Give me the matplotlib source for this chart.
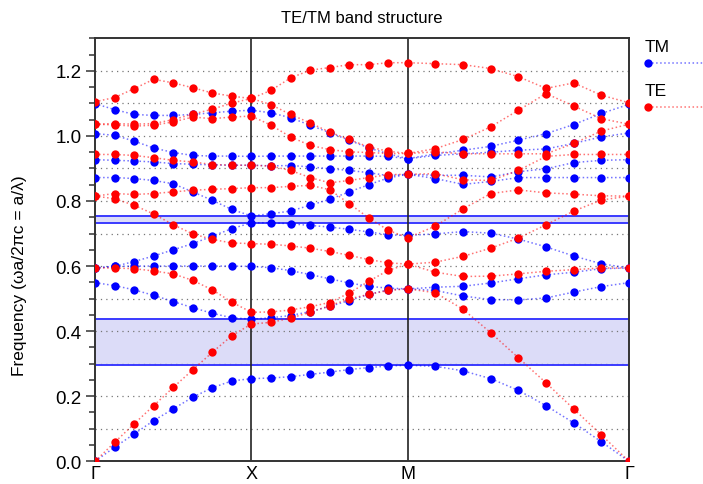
import matplotlib
matplotlib.use("Agg")
import matplotlib.pyplot as plt
import numpy as np
from matplotlib.lines import Line2D
from matplotlib.ticker import MultipleLocator

plt.rcParams['font.family'] = ['Liberation Sans', 'DejaVu Sans']

# high-symmetry points and length of each leg of the k-path (units of 2pi/a)
k_labels = ['Γ', 'X', 'M', 'Γ']
leg_lengths = [0.5, 0.5, np.sqrt(2) / 2]

# frequencies (wa/2pic) at each k-point, 8 bands per row
tm_gamma_x = [
    [0.000, 0.549, 0.594, 0.594, 0.872, 0.927, 1.007, 1.099],
    [0.043, 0.540, 0.599, 0.599, 0.872, 0.925, 1.002, 1.081],
    [0.084, 0.527, 0.600, 0.614, 0.869, 0.923, 0.984, 1.066],
    [0.125, 0.510, 0.600, 0.631, 0.863, 0.920, 0.963, 1.063],
    [0.161, 0.491, 0.600, 0.650, 0.853, 0.915, 0.949, 1.063],
    [0.197, 0.472, 0.600, 0.669, 0.828, 0.913, 0.940, 1.066],
    [0.226, 0.455, 0.600, 0.692, 0.802, 0.911, 0.938, 1.071],
    [0.247, 0.441, 0.600, 0.715, 0.774, 0.910, 0.938, 1.076],
    [0.254, 0.437, 0.599, 0.733, 0.754, 0.910, 0.937, 1.079],
]
tm_x_m = [
    [0.254, 0.437, 0.599, 0.733, 0.754, 0.910, 0.937, 1.079],
    [0.256, 0.441, 0.595, 0.733, 0.761, 0.908, 0.938, 1.071],
    [0.260, 0.448, 0.586, 0.730, 0.769, 0.909, 0.938, 1.056],
    [0.267, 0.460, 0.574, 0.725, 0.787, 0.905, 0.938, 1.033],
    [0.274, 0.476, 0.561, 0.720, 0.805, 0.899, 0.938, 1.010],
    [0.282, 0.494, 0.548, 0.713, 0.828, 0.894, 0.938, 0.987],
    [0.288, 0.513, 0.538, 0.705, 0.850, 0.887, 0.938, 0.963],
    [0.293, 0.527, 0.532, 0.696, 0.871, 0.878, 0.937, 0.945],
    [0.295, 0.530, 0.530, 0.694, 0.882, 0.882, 0.930, 0.930],
]
tm_m_gamma = [
    [0.295, 0.530, 0.530, 0.694, 0.882, 0.882, 0.930, 0.930],
    [0.292, 0.525, 0.535, 0.699, 0.869, 0.879, 0.940, 0.945],
    [0.278, 0.508, 0.538, 0.706, 0.851, 0.879, 0.945, 0.956],
    [0.254, 0.497, 0.548, 0.701, 0.860, 0.874, 0.950, 0.968],
    [0.218, 0.496, 0.561, 0.683, 0.872, 0.890, 0.956, 0.987],
    [0.171, 0.502, 0.573, 0.659, 0.872, 0.899, 0.960, 1.007],
    [0.118, 0.520, 0.581, 0.631, 0.872, 0.918, 0.977, 1.035],
    [0.060, 0.537, 0.592, 0.607, 0.872, 0.925, 0.997, 1.069],
    [0.000, 0.549, 0.594, 0.594, 0.872, 0.927, 1.009, 1.097],
]

te_gamma_x = [
    [0.000, 0.594, 0.815, 0.815, 0.943, 1.036, 1.036, 1.105],
    [0.058, 0.594, 0.807, 0.823, 0.943, 1.034, 1.038, 1.118],
    [0.115, 0.592, 0.787, 0.820, 0.940, 1.030, 1.036, 1.145],
    [0.171, 0.585, 0.760, 0.823, 0.933, 1.033, 1.038, 1.174],
    [0.227, 0.576, 0.727, 0.828, 0.925, 1.043, 1.050, 1.163],
    [0.281, 0.556, 0.699, 0.833, 0.920, 1.058, 1.067, 1.148],
    [0.335, 0.527, 0.682, 0.836, 0.912, 1.053, 1.082, 1.132],
    [0.386, 0.489, 0.671, 0.838, 0.910, 1.058, 1.101, 1.122],
    [0.422, 0.458, 0.669, 0.841, 0.910, 1.061, 1.115, 1.115],
]
te_x_m = [
    [0.422, 0.458, 0.669, 0.841, 0.910, 1.061, 1.115, 1.115],
    [0.427, 0.459, 0.667, 0.841, 0.907, 1.033, 1.096, 1.140],
    [0.440, 0.465, 0.662, 0.845, 0.894, 0.997, 1.066, 1.178],
    [0.458, 0.475, 0.655, 0.848, 0.872, 0.971, 1.040, 1.202],
    [0.478, 0.488, 0.645, 0.835, 0.856, 0.958, 1.012, 1.210],
    [0.499, 0.517, 0.633, 0.792, 0.863, 0.951, 0.989, 1.219],
    [0.513, 0.553, 0.620, 0.748, 0.872, 0.949, 0.966, 1.219],
    [0.525, 0.587, 0.610, 0.710, 0.881, 0.946, 0.953, 1.225],
    [0.530, 0.606, 0.606, 0.687, 0.882, 0.946, 0.946, 1.225],
]
te_m_gamma = [
    [0.530, 0.606, 0.606, 0.687, 0.882, 0.946, 0.946, 1.225],
    [0.518, 0.581, 0.612, 0.723, 0.884, 0.951, 0.961, 1.222],
    [0.467, 0.568, 0.630, 0.776, 0.865, 0.945, 0.989, 1.219],
    [0.395, 0.569, 0.655, 0.823, 0.863, 0.945, 1.028, 1.207],
    [0.318, 0.576, 0.686, 0.834, 0.894, 0.945, 1.079, 1.182],
    [0.241, 0.584, 0.727, 0.825, 0.937, 0.945, 1.130, 1.146],
    [0.161, 0.589, 0.769, 0.821, 0.943, 0.977, 1.092, 1.163],
    [0.081, 0.594, 0.803, 0.816, 0.943, 1.015, 1.053, 1.125],
    [0.000, 0.594, 0.815, 0.815, 0.943, 1.036, 1.036, 1.102],
]


def join_legs(legs):
    out = list(legs[0])
    for leg in legs[1:]:
        out += leg[1:]
    return np.array(out)


tm = join_legs([tm_gamma_x, tm_x_m, tm_m_gamma])
te = join_legs([te_gamma_x, te_x_m, te_m_gamma])

# k distance along the path
sym_k = np.concatenate([[0], np.cumsum(leg_lengths)])
kx = [0.0]
for i in range(3):
    kx += list(np.linspace(sym_k[i], sym_k[i + 1], len(tm_gamma_x))[1:])
kx = np.array(kx)

fig = plt.figure(figsize=(7.03, 4.85), dpi=100)
ax = fig.add_axes([95 / 703, 1 - 462.3 / 485, 534 / 703, 423 / 485])

blue = '#0000ff'
red = '#ff0000'

# TM band gaps
for lo, hi in [(tm[:, 0].max(), tm[:, 1].min()), (tm[:, 3].max(), tm[:, 4].min())]:
    ax.axhspan(lo, hi, color='#dcdcf8', lw=0, zorder=0.5)
    ax.axhline(lo, color='#3a3aff', lw=1.4, zorder=1)
    ax.axhline(hi, color='#3a3aff', lw=1.4, zorder=1)

for y in np.arange(0.1, 1.25, 0.1):
    ax.axhline(y, color='#777777', lw=0.9, dashes=(1, 3.3), zorder=0.8)
for x in sym_k[1:-1]:
    ax.axvline(x, color='#222222', lw=1.2, zorder=1.2)

for bands, c in [(tm, blue), (te, red)]:
    for b in range(bands.shape[1]):
        ax.plot(kx, bands[:, b], ls=':', lw=1.1, color=c, alpha=0.55, zorder=2)
        ax.plot(kx, bands[:, b], 'o', ms=6, color=c, mec='none', zorder=3)

ax.set_xlim(sym_k[0], sym_k[-1])
ax.set_ylim(0, 1.3)
ax.set_xticks(sym_k)
ax.set_xticklabels(k_labels, fontsize=13)
ax.tick_params(axis='x', length=0, pad=3)
ax.set_yticks(np.arange(0, 1.21, 0.2))
ax.set_yticklabels(['%.1f' % v for v in np.arange(0, 1.21, 0.2)], fontsize=13.5)
ax.yaxis.set_minor_locator(MultipleLocator(0.05))
ax.tick_params(axis='y', which='major', direction='out', length=6.5, width=1.1, color='#333333', pad=3)
ax.tick_params(axis='y', which='minor', direction='out', length=4.3, width=1.1, color='#333333')
for s in ax.spines.values():
    s.set_color('#333333')
    s.set_linewidth(1.4)

ax.set_ylabel('Frequency (ωa/2πc = a/λ)', fontsize=12.5)
ax.yaxis.set_label_coords(-0.128, 0.44)
ax.set_title('TE/TM band structure', fontsize=12, pad=12)

# legend outside the axes on the right
for label, c, ty, my in [('TM', blue, 47, 64), ('TE', red, 91, 107.5)]:
    fig.text(645 / 703, 1 - ty / 485, label, fontsize=12.5, va='center', ha='left')
    yy = 1 - my / 485
    fig.add_artist(Line2D([648 / 703, 1.0], [yy, yy], transform=fig.transFigure,
                          ls=':', lw=1.1, color=c, alpha=0.55))
    fig.add_artist(Line2D([648 / 703], [yy], transform=fig.transFigure,
                          marker='o', ms=6, color=c, mec='none', ls='none'))

fig.savefig('out.png', dpi=100)
